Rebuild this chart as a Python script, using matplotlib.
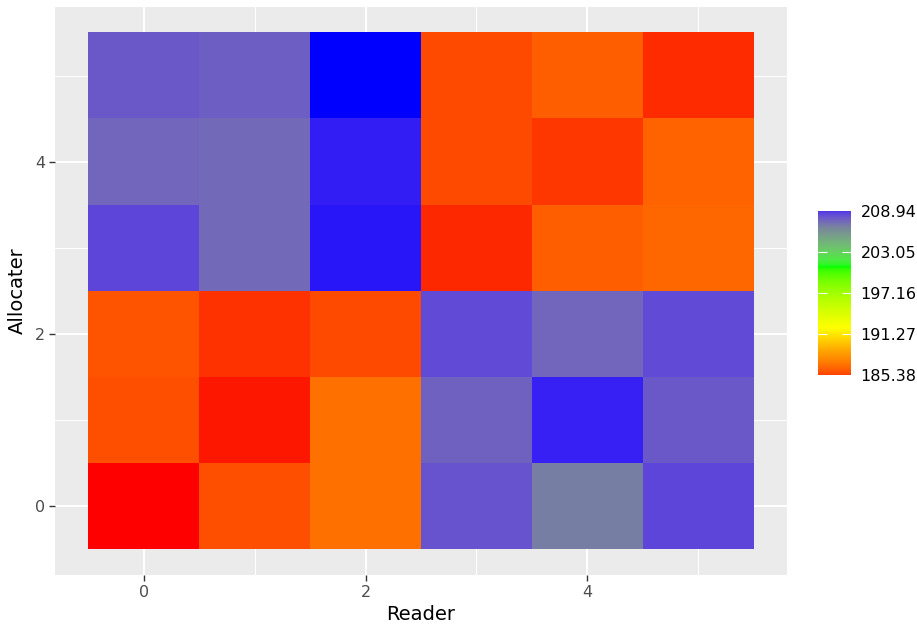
import numpy as np
import matplotlib
matplotlib.use("Agg")
import matplotlib.pyplot as plt
from matplotlib.colors import ListedColormap, Normalize
from matplotlib.cm import ScalarMappable

reader = [0, 1, 2, 3, 4, 5]
allocater = [0, 1, 2, 3, 4, 5]
# rows = allocater 0..5, columns = reader 0..5
value = np.array([
    [185.38, 186.49, 187.52, 207.46, 206.14, 207.83],
    [186.49, 185.52, 187.52, 207.03, 208.61, 207.31],
    [186.63, 185.85, 186.37, 207.67, 206.91, 207.69],
    [207.79, 206.80, 208.75, 185.71, 186.91, 187.22],
    [206.91, 206.80, 208.66, 186.37, 185.95, 187.05],
    [207.31, 207.13, 208.94, 186.37, 186.91, 185.78],
])
breaks = [185.38, 191.27, 197.16, 203.05, 208.94]
palette = ["#FF0000", "#FFA500", "#FFFF00", "#00FF00", "#778899", "#0000FF"]
palette_pos = [0, 0.17, 0.30, 0.65, 0.87, 1]

# colour ramp interpolated in CIELAB, like ggplot's gradientn
M = np.array([[0.4124, 0.3576, 0.1805], [0.2126, 0.7152, 0.0722], [0.0193, 0.1192, 0.9505]])
WHITE = np.array([0.95047, 1.0, 1.08883])


def to_lab(rgb):
    c = np.asarray(rgb, float)
    lin = np.where(c <= 0.04045, c / 12.92, ((c + 0.055) / 1.055) ** 2.4)
    xyz = lin @ M.T / WHITE
    f = np.where(xyz > (6 / 29) ** 3, np.cbrt(xyz), xyz / (3 * (6 / 29) ** 2) + 4 / 29)
    return np.stack([116 * f[..., 1] - 16, 500 * (f[..., 0] - f[..., 1]),
                     200 * (f[..., 1] - f[..., 2])], -1)


def from_lab(lab):
    fy = (lab[..., 0] + 16) / 116
    f = np.stack([fy + lab[..., 1] / 500, fy, fy - lab[..., 2] / 200], -1)
    xyz = np.where(f > 6 / 29, f ** 3, 3 * (6 / 29) ** 2 * (f - 4 / 29)) * WHITE
    lin = np.clip(xyz @ np.linalg.inv(M).T, 0, 1)
    return np.clip(np.where(lin <= 0.0031308, 12.92 * lin, 1.055 * lin ** (1 / 2.4) - 0.055), 0, 1)


labs = to_lab(np.array([matplotlib.colors.to_rgb(c) for c in palette]))
t = np.linspace(0, 1, 512)
ramp = from_lab(np.stack([np.interp(t, palette_pos, labs[:, k]) for k in range(3)], -1))
cmap = ListedColormap(ramp)
# the legend bar in the original is sampled in bins, so its ends are a bit muted
bar_cmap = ListedColormap(ramp[16:-16])
vmin, vmax = min(breaks), max(breaks)

W, H = 917, 628
fig = plt.figure(figsize=(W / 100, H / 100), dpi=100)
ax = fig.add_axes([55 / W, 1 - 575 / H, 732 / W, 568 / H])
ax.set_facecolor("#EBEBEB")
ax.set_axisbelow(True)
for s in ax.spines.values():
    s.set_visible(False)

im = ax.imshow(value, origin="lower", cmap=cmap, vmin=vmin, vmax=vmax,
               aspect="auto", extent=(-0.5, 5.5, -0.5, 5.5), zorder=2)
ax.set_xlim(-0.8, 5.8)
ax.set_ylim(-0.8, 5.8)
ax.set_xticks([0, 2, 4])
ax.set_yticks([0, 2, 4])
ax.set_xticks([1, 3, 5], minor=True)
ax.set_yticks([1, 3, 5], minor=True)
ax.grid(which="major", color="white", linewidth=1.5)
ax.grid(which="minor", color="white", linewidth=0.75)
ax.tick_params(which="major", length=4, width=1, color="#333333",
               labelcolor="#4D4D4D", labelsize=11.5, pad=3)
ax.tick_params(which="minor", length=0)
ax.set_xlabel("Reader", fontsize=14, labelpad=4)
ax.set_ylabel("Allocater", fontsize=14, labelpad=6)

cax = fig.add_axes([818 / W, 1 - 375 / H, 33 / W, 164 / H])
sm = ScalarMappable(norm=Normalize(vmin, vmax), cmap=bar_cmap)
cb = fig.colorbar(sm, cax=cax, ticks=breaks)
cb.outline.set_visible(False)
cb.ax.set_yticklabels(["%.2f" % b for b in breaks])
cb.ax.tick_params(direction="in", length=6.5, width=0.8, color="white",
                  left=True, right=True, labelsize=11.5, pad=7)
# end ticks are not visible in the original
fig.canvas.draw()
for tk in cb.ax.yaxis.get_major_ticks():
    if tk.get_loc() in (vmin, vmax):
        tk.tick1line.set_visible(False)
        tk.tick2line.set_visible(False)

fig.savefig("out.png", dpi=100)
